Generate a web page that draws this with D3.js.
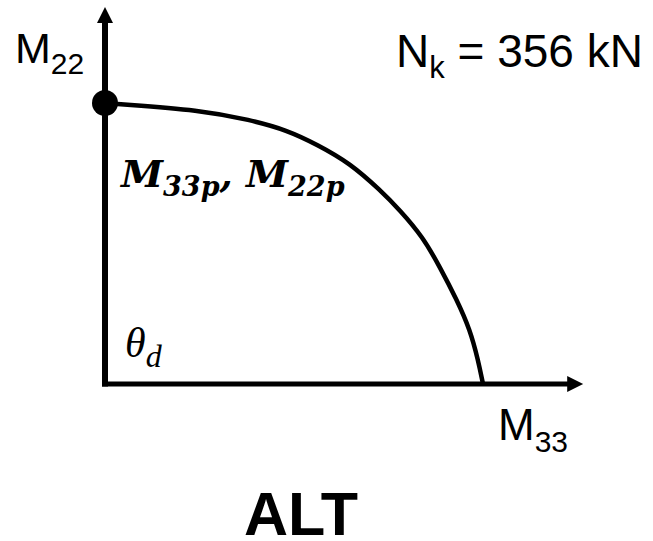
<!DOCTYPE html>
<html>
<head>
<meta charset="utf-8">
<script src="https://cdn.jsdelivr.net/npm/d3@7"></script>
<style>
  html, body { margin: 0; padding: 0; background: #fff; }
  svg { display: block; }
</style>
</head>
<body>
<script>
// Normalised interaction curve M22/M22p vs M33/M33p
const m33 = [0, 0.040, 0.251, 0.384, 0.481, 0.563, 0.648, 0.728, 0.780, 0.841, 0.886, 0.931, 0.966, 0.987, 1];
const m22 = [1, 0.996, 0.975, 0.940, 0.904, 0.851, 0.786, 0.690, 0.619, 0.523, 0.416, 0.299, 0.192, 0.085, 0];
// Axis extents (arrow tips) in the same normalised units
const xAxisEnd = 1.265;
const yAxisEnd = 1.342;
const axialLoad = "356 kN";
const title = "ALT";

const W = 653, H = 541;
const svg = d3.select("body").append("svg").attr("width", W).attr("height", H);

const x = d3.scaleLinear().domain([0, 1]).range([105, 483]);
const y = d3.scaleLinear().domain([0, 1]).range([384, 103]);

const pts = m33.map((v, i) => [v, m22[i]]);
const ink = "#000";

// axes with arrowheads
const arrowLen = 16, arrowHalf = 8;
svg.append("line")
  .attr("x1", x(0) - 3).attr("y1", y(0)).attr("x2", x(xAxisEnd) - arrowLen + 1).attr("y2", y(0))
  .attr("stroke", ink).attr("stroke-width", 5);
svg.append("path")
  .attr("d", `M${x(xAxisEnd)},${y(0)} L${x(xAxisEnd) - arrowLen},${y(0) - arrowHalf} L${x(xAxisEnd) - arrowLen},${y(0) + arrowHalf} Z`)
  .attr("fill", ink);
svg.append("line")
  .attr("x1", x(0)).attr("y1", y(0) + 2.5).attr("x2", x(0)).attr("y2", y(yAxisEnd) + arrowLen - 1)
  .attr("stroke", ink).attr("stroke-width", 6);
svg.append("path")
  .attr("d", `M${x(0)},${y(yAxisEnd)} L${x(0) - arrowHalf},${y(yAxisEnd) + arrowLen} L${x(0) + arrowHalf},${y(yAxisEnd) + arrowLen} Z`)
  .attr("fill", ink);

// interaction curve
const line = d3.line().x(d => x(d[0])).y(d => y(d[1])).curve(d3.curveBasis);
svg.append("path").attr("d", line(pts))
  .attr("fill", "none").attr("stroke", ink).attr("stroke-width", 4.5);

// point on the M22 axis
svg.append("circle").attr("cx", x(pts[0][0])).attr("cy", y(pts[0][1])).attr("r", 13).attr("fill", ink);

const sans = "'Liberation Sans', Arial, sans-serif";
const serif = "'DejaVu Serif', 'Liberation Serif', serif";

// axis labels
const m22Label = svg.append("text").attr("x", 15).attr("y", 63)
  .attr("font-family", sans).attr("font-size", 43).attr("fill", ink);
m22Label.append("tspan").text("M");
m22Label.append("tspan").attr("font-size", 30).attr("dy", 11).text("22");

const m33Label = svg.append("text").attr("x", 498).attr("y", 440)
  .attr("font-family", sans).attr("font-size", 44).attr("fill", ink);
m33Label.append("tspan").text("M");
m33Label.append("tspan").attr("font-size", 30).attr("dy", 12).text("33");

// axial load
const nLabel = svg.append("text").attr("x", 396).attr("y", 67)
  .attr("font-family", sans).attr("font-size", 46).attr("fill", ink);
nLabel.append("tspan").text("N");
nLabel.append("tspan").attr("font-size", 31).attr("dy", 11).text("k");
nLabel.append("tspan").attr("dy", -11).text(" = " + axialLoad);

// plastic moments label
const pLabel = svg.append("text").attr("x", 121).attr("y", 187)
  .attr("font-family", serif).attr("font-size", 38).attr("font-weight", "bold")
  .attr("font-style", "italic").attr("fill", ink);
pLabel.append("tspan").text("M");
pLabel.append("tspan").attr("font-size", 27).attr("dy", 9).text("33p");
pLabel.append("tspan").attr("dy", -9).text(", M");
pLabel.append("tspan").attr("font-size", 27).attr("dy", 9).text("22p");

// angle label
const tLabel = svg.append("text").attr("x", 125).attr("y", 357)
  .attr("font-family", "'Liberation Serif', serif").attr("font-size", 42).attr("font-style", "italic").attr("fill", ink);
tLabel.append("tspan").text("θ");
tLabel.append("tspan").attr("font-size", 32).attr("dy", 10).text("d");

// title
svg.append("text").attr("x", 301).attr("y", 535).attr("text-anchor", "middle")
  .attr("font-family", sans).attr("font-size", 61).attr("font-weight", "bold").attr("fill", ink)
  .text(title);
</script>
</body>
</html>
